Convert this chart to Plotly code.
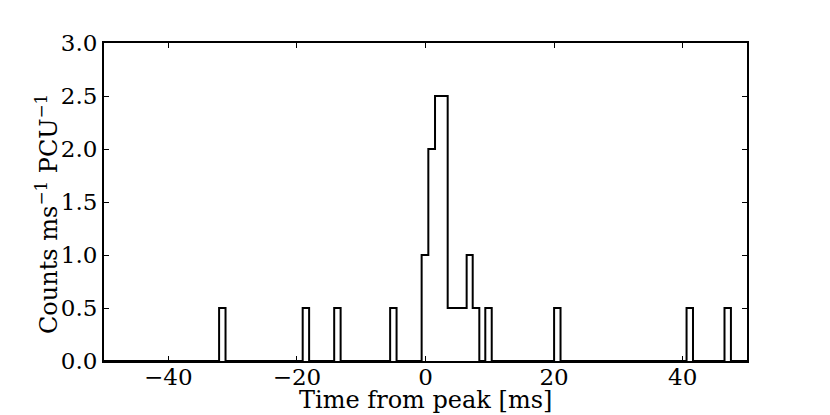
import plotly.graph_objects as go

# bin edges (ms from peak) and count rate in each bin (counts/ms/PCU)
edges = [-50, -32.1, -31.1, -19.1, -18.1, -14.2, -13.2, -5.5, -4.5,
         -0.6, 0.44, 1.48, 3.45, 6.4, 7.34, 8.37, 9.3, 10.3,
         20.0, 21.0, 40.6, 41.6, 46.5, 47.5, 50]
rates = [0, 0.5, 0, 0.5, 0, 0.5, 0, 0.5, 0,
         1.0, 2.0, 2.5, 0.5, 1.0, 0.5, 0, 0.5, 0,
         0.5, 0, 0.5, 0, 0.5, 0]

x_ticks = [-40, -20, 0, 20, 40]
y_ticks = [0.0, 0.5, 1.0, 1.5, 2.0, 2.5, 3.0]

tick_font = dict(family='DejaVu Serif, serif', size=23, color='black')
title_font = dict(family='DejaVu Serif, serif', size=24, color='black')

fig = go.Figure()
fig.add_trace(go.Scatter(
    x=edges, y=rates + [rates[-1]], mode='lines', line_shape='hv',
    line=dict(color='black', width=2), showlegend=False, hoverinfo='skip',
))

axis = dict(showline=True, linewidth=2, linecolor='black', mirror='allticks',
            ticks='inside', ticklen=5, tickwidth=1, tickcolor='black',
            showgrid=False, zeroline=False, tickfont=tick_font, automargin=False)

# page body has an 8px margin, so the figure is a bit smaller than the window
fig.update_layout(
    width=822, height=407,
    margin=dict(l=96, r=83, t=35, b=54),
    paper_bgcolor='white', plot_bgcolor='white',
    xaxis=dict(range=[-50, 50], tickvals=x_ticks, ticklabelstandoff=-6, **axis),
    yaxis=dict(range=[0, 3], tickvals=y_ticks, tickformat='.1f', **axis),
)

# axis titles placed as annotations so they sit close to the tick labels
fig.add_annotation(text='Time from peak [ms]', xref='paper', yref='paper',
                   x=0.5, y=0, xanchor='center', yanchor='top', yshift=-23,
                   showarrow=False, font=title_font)
fig.add_annotation(text='Counts ms<sup>−1</sup> PCU<sup>−1</sup>', xref='paper', yref='paper',
                   x=0, y=0.5, xanchor='center', yanchor='middle', xshift=-57, yshift=-12,
                   textangle=-90, showarrow=False, font=title_font)

fig.write_html("out.html")
